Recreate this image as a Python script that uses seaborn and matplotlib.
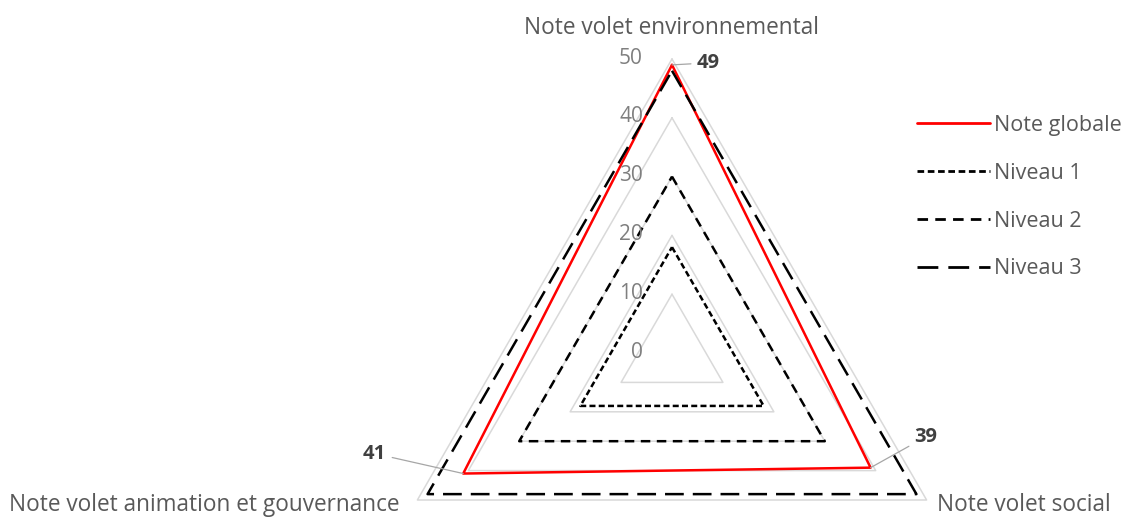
import numpy as np
import pandas as pd
import matplotlib
matplotlib.use("Agg")
import matplotlib.pyplot as plt
import seaborn as sns

# ---- data ----
axes_labels = ["Note volet environnemental", "Note volet social",
               "Note volet animation et gouvernance"]
note_globale = [49, 39, 41]
niveau_1 = [18, 18, 18]
niveau_2 = [30, 30, 30]
niveau_3 = [48, 48, 48]
series_names = ["Note globale", "Niveau 1", "Niveau 2", "Niveau 3"]
grid_levels = [10, 20, 30, 40, 50]
tick_labels = ["0", "10", "20", "30", "40", "50"]

sns.set_style("white")
plt.rcParams["font.family"] = ["Open Sans", "DejaVu Sans"]

W, H = 1133, 518
fig = plt.figure(figsize=(W / 100, H / 100), dpi=100)
cx, cy, R = 672, 353, 294
ax = fig.add_axes([(cx - R) / W, (H - (cy + R)) / H, 2 * R / W, 2 * R / H],
                  projection="polar")
ax.set_theta_zero_location("N")
ax.set_theta_direction(-1)
ax.set_ylim(0, 50)
ax.axis("off")

n = len(axes_labels)
theta = np.linspace(0, 2 * np.pi, n, endpoint=False)
theta_closed = np.append(theta, 2 * np.pi)

# grid triangles
for g in grid_levels:
    ax.plot(theta_closed, [g] * (n + 1), color="#D9D9D9", lw=1.1,
            clip_on=False, zorder=1)

rows = []
for name, vals in zip(series_names, [note_globale, niveau_1, niveau_2, niveau_3]):
    for t, v in zip(theta_closed, vals + [vals[0]]):
        rows.append({"theta": t, "value": v, "serie": name})
df = pd.DataFrame(rows)

palette = {"Note globale": "#FF0000", "Niveau 1": "#000000",
           "Niveau 2": "#000000", "Niveau 3": "#000000"}
dashes = {"Note globale": "", "Niveau 1": (2.4, 1.3),
          "Niveau 2": (3.8, 2.6), "Niveau 3": (7.5, 3.6)}
sns.lineplot(data=df, x="theta", y="value", hue="serie", style="serie",
             hue_order=series_names, style_order=series_names,
             palette=palette, dashes=dashes, sort=False, estimator=None,
             lw=1.8, ax=ax, legend=True, zorder=3)
for line in ax.get_lines():
    line.set_clip_on(False)

FS = 16.3
FS_LEG = 15.5
FS_TICK = 15
FS_DATA = 14.5
# radial tick labels
for i, lab in enumerate(tick_labels):
    ax.annotate(lab, xy=(0, i * 10), xycoords="data",
                xytext=(-29, 1), textcoords="offset pixels",
                ha="right", va="center", fontsize=FS_TICK, color="#7F7F7F",
                annotation_clip=False)

# category labels
ax.annotate(axes_labels[0], xy=(theta[0], 50), xytext=(0, 31),
            textcoords="offset pixels", ha="center", va="center",
            fontsize=FS, color="#595959", annotation_clip=False)
ax.annotate(axes_labels[1], xy=(theta[1], 50), xytext=(10, -5),
            textcoords="offset pixels", ha="left", va="center",
            fontsize=FS, color="#595959", annotation_clip=False)
ax.annotate(axes_labels[2], xy=(theta[2], 50), xytext=(-18, -5),
            textcoords="offset pixels", ha="right", va="center",
            fontsize=FS, color="#595959", annotation_clip=False)

# data labels with leader lines
offsets = [(25, 2), (44, 31), (-77, 20)]
has = ["left", "left", "right"]
for t, v, off, ha in zip(theta, note_globale, offsets, has):
    ax.annotate(str(v), xy=(t, v), xytext=off, textcoords="offset pixels",
                ha=ha, va="center", fontsize=FS_DATA, fontweight="bold",
                color="#404040", annotation_clip=False,
                arrowprops=dict(arrowstyle="-", color="#A6A6A6", lw=0.9,
                                shrinkA=2, shrinkB=0))

# legend
handles, labels = ax.get_legend_handles_labels()
for h in handles:
    h.set_linewidth(2.0)
leg = ax.legend(handles, labels, loc="upper left",
                bbox_to_anchor=(906 / W, (H - 104) / H),
                bbox_transform=fig.transFigure, frameon=False,
                fontsize=FS_LEG, handlelength=3.4, handletextpad=0.2,
                labelspacing=1.25, borderpad=0)
for t in leg.get_texts():
    t.set_color("#595959")

fig.savefig("out.png", dpi=100)
